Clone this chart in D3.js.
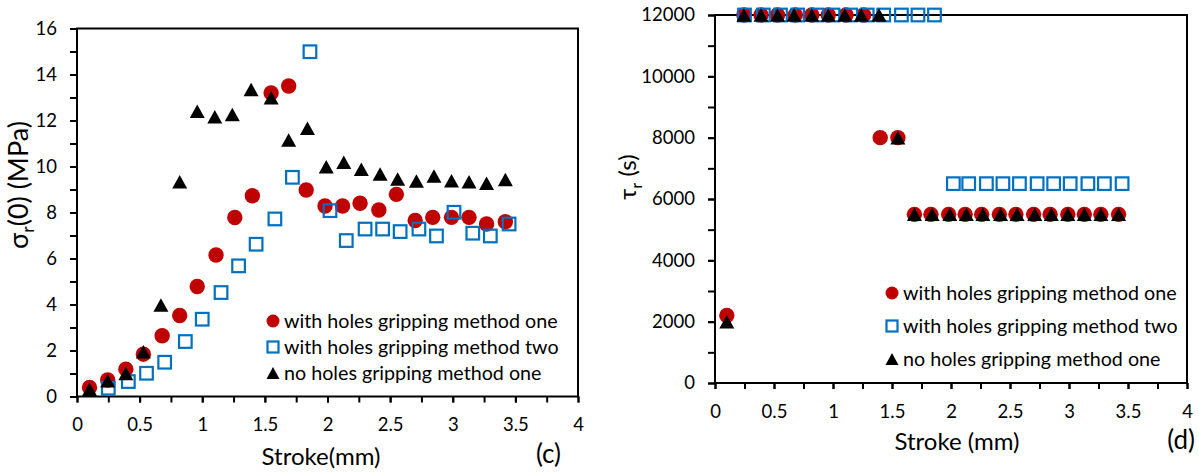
<!DOCTYPE html>
<html>
<head>
<meta charset="utf-8">
<script src="https://cdn.jsdelivr.net/npm/d3@7"></script>
<style>
body { margin: 0; background: #fff; }
svg text { font-family: Lato, "Open Sans", sans-serif; fill: #000; }
</style>
</head>
<body>
<div id="chart"></div>
<script>
// stroke (mm) of each specimen point
var strokeHolesOne = [0.10, 0.245, 0.39, 0.53, 0.68, 0.82, 0.96, 1.11, 1.26, 1.40, 1.55, 1.69,
    1.83, 1.98, 2.12, 2.26, 2.41, 2.55, 2.70, 2.84, 2.99, 3.13, 3.27, 3.42];
var strokeHolesTwo = [0.25, 0.41, 0.555, 0.70, 0.865, 1.00, 1.15, 1.29, 1.43, 1.58, 1.72, 1.86,
    2.02, 2.15, 2.30, 2.44, 2.58, 2.73, 2.87, 3.01, 3.16, 3.30, 3.45];
var strokeNoHoles = [0.10, 0.245, 0.39, 0.53, 0.67, 0.82, 0.96, 1.10, 1.24, 1.39, 1.55, 1.69,
    1.84, 1.99, 2.13, 2.27, 2.42, 2.56, 2.71, 2.85, 2.99, 3.13, 3.27, 3.42];

// (c) sigma_r(0) in MPa
var sigmaHolesOne = [0.39, 0.72, 1.19, 1.84, 2.64, 3.52, 4.78, 6.15, 7.78, 8.73, 13.2, 13.5,
    8.98, 8.28, 8.28, 8.40, 8.11, 8.79, 7.65, 7.79, 7.79, 7.79, 7.50, 7.60];
var sigmaHolesTwo = [0.36, 0.65, 1.01, 1.49, 2.39, 3.36, 4.52, 5.68, 6.62, 7.72, 9.53, 14.99,
    8.08, 6.78, 7.28, 7.28, 7.17, 7.28, 6.98, 8.01, 7.10, 6.98, 7.50];
var sigmaNoHoles = [0.32, 0.68, 1.00, 1.95, 3.98, 9.34, 12.4, 12.16, 12.26, 13.35, 12.99, 11.15,
    11.66, 9.99, 10.18, 9.88, 9.67, 9.46, 9.37, 9.59, 9.38, 9.34, 9.27, 9.44];

// (d) tau_r in s
var tauHolesOne = [2200, 12000, 12000, 12000, 12000, 12000, 12000, 12000, 12000, 8000, 8000, 5500,
    5500, 5500, 5500, 5500, 5500, 5500, 5500, 5500, 5500, 5500, 5500, 5500];
var tauHolesTwo = [12000, 12000, 12000, 12000, 12000, 12000, 12000, 12000, 12000, 12000, 12000, 12000,
    6500, 6500, 6500, 6500, 6500, 6500, 6500, 6500, 6500, 6500, 6500];
var tauNoHoles = [2000, 12000, 12000, 12000, 12000, 12000, 12000, 12000, 12000, 12000, 8000, 5500,
    5500, 5500, 5500, 5500, 5500, 5500, 5500, 5500, 5500, 5500, 5500, 5500];

var seriesNames = ["with holes gripping method one", "with holes gripping method two", "no holes gripping method one"];
var xTickLabels = [0, 0.5, 1, 1.5, 2, 2.5, 3, 3.5, 4];
var yTickLabelsC = [0, 2, 4, 6, 8, 10, 12, 14, 16];
var yTickLabelsD = [0, 2000, 4000, 6000, 8000, 10000, 12000];

var red = "#C00000", blue = "#0070C0";

var svg = d3.select("#chart").append("svg")
    .attr("width", 1199)
    .attr("height", 476);

function zip(xs, ys) {
    return xs.map(function(d, i) { return {x: d, y: ys[i]}; });
}

function triangle(w, h) {
    var p = d3.path();
    p.moveTo(0, -h / 2);
    p.lineTo(w / 2, h / 2);
    p.lineTo(-w / 2, h / 2);
    p.closePath();
    return p.toString();
}

function drawMarkers(g, kind, data, x, y) {
    if (kind == 0) {
        g.selectAll("circle.m").data(data).enter().append("circle")
            .attr("class", "m")
            .attr("cx", function(d) { return x(d.x); })
            .attr("cy", function(d) { return y(d.y); })
            .attr("r", 7.7)
            .style("fill", red);
    } else if (kind == 1) {
        g.selectAll("rect.m").data(data).enter().append("rect")
            .attr("class", "m")
            .attr("x", function(d) { return x(d.x) - 6.3; })
            .attr("y", function(d) { return y(d.y) - 6.3; })
            .attr("width", 12.6)
            .attr("height", 12.6)
            .style("fill", "none")
            .style("stroke", blue)
            .style("stroke-width", 2.2);
    } else {
        g.selectAll("path.m").data(data).enter().append("path")
            .attr("class", "m")
            .attr("transform", function(d) { return "translate(" + x(d.x) + "," + y(d.y) + ")"; })
            .attr("d", triangle(15, 13.5))
            .style("fill", "#000");
    }
}

function panel(o) {
    var x = d3.scaleLinear().domain([0, 4]).range([o.left, o.right]);
    var y = d3.scaleLinear().domain([0, o.ymax]).range([o.bottom, o.top]);
    var g = svg.append("g");

    // minor ticks
    g.append("g").attr("transform", "translate(" + o.left + ",0)")
        .call(d3.axisLeft(y).tickValues(d3.range(0, o.ymax + 1, o.yminor)).tickSize(7).tickFormat(""));
    g.append("g").attr("transform", "translate(0," + o.bottom + ")")
        .call(d3.axisBottom(x).tickValues(d3.range(0, 4.01, 0.25)).tickSize(6).tickFormat(""));

    // labelled ticks
    g.append("g").attr("class", "lab").attr("transform", "translate(" + o.left + ",0)")
        .call(d3.axisLeft(y).tickValues(o.yticks).tickSize(7).tickPadding(13)
            .tickFormat(function(d) { return String(d); }));
    g.append("g").attr("class", "lab").attr("transform", "translate(0," + o.bottom + ")")
        .call(d3.axisBottom(x).tickValues(xTickLabels).tickSize(6).tickPadding(15.5)
            .tickFormat(function(d) { return String(d); }));

    g.selectAll(".domain").remove();
    g.selectAll(".tick line").style("stroke", "#000").style("stroke-width", 2);
    g.selectAll(".lab text").style("font-size", "18.5px").style("font-family", "Lato, sans-serif");

    g.append("rect")
        .attr("x", o.left).attr("y", o.top)
        .attr("width", o.right - o.left).attr("height", o.bottom - o.top)
        .style("fill", "none").style("stroke", "#000").style("stroke-width", 2);

    drawMarkers(g.append("g"), 0, zip(strokeHolesOne, o.s1), x, y);
    drawMarkers(g.append("g"), 1, zip(strokeHolesTwo, o.s2), x, y);
    drawMarkers(g.append("g"), 2, zip(strokeNoHoles, o.s3), x, y);

    // legend
    var leg = g.append("g");
    seriesNames.forEach(function(name, i) {
        var cy = o.legY + i * o.legStep;
        var m = leg.append("g").attr("transform", "translate(" + o.legX + "," + cy + ")");
        if (i == 0) m.append("circle").attr("r", 6.5).style("fill", red);
        if (i == 1) m.append("rect").attr("x", -5.5).attr("y", -5.5).attr("width", 11).attr("height", 11)
            .style("fill", "none").style("stroke", blue).style("stroke-width", 2.2);
        if (i == 2) m.append("path").attr("d", triangle(13, 12)).style("fill", "#000");
        leg.append("text")
            .attr("x", o.legX + 11).attr("y", cy + 7)
            .style("font-size", "19.7px")
            .text(name);
    });

    g.append("text")
        .attr("x", o.xTitleX).attr("y", o.xTitleY)
        .attr("text-anchor", "middle")
        .style("font-size", "24px")
        .text(o.xTitle);

    g.append("text")
        .attr("x", o.tagX).attr("y", o.tagY)
        .attr("text-anchor", "end")
        .style("font-size", "26px")
        .text(o.tag);

    var yt = g.append("text")
        .attr("transform", "translate(" + o.yTitleX + "," + o.yTitleY + ") rotate(-90)")
        .attr("text-anchor", "middle")
        .style("font-size", o.yTitleSize + "px");
    yt.append("tspan").text(o.yTitle[0]);
    yt.append("tspan").attr("dy", 6).style("font-size", (o.yTitleSize * 0.65) + "px").text("r");
    yt.append("tspan").attr("dy", -6).text(o.yTitle[1]);
}

panel({
    left: 77, right: 578, top: 28.5, bottom: 396.5,
    ymax: 16, yminor: 1, yticks: yTickLabelsC,
    s1: sigmaHolesOne, s2: sigmaHolesTwo, s3: sigmaNoHoles,
    legX: 273, legY: 321, legStep: 26,
    xTitle: "Stroke(mm)", xTitleX: 321, xTitleY: 465,
    tag: "(c)", tagX: 561, tagY: 463,
    yTitle: ["σ", "(0) (MPa)"], yTitleSize: 27, yTitleX: 28, yTitleY: 185
});

panel({
    left: 715, right: 1187, top: 15, bottom: 383,
    ymax: 12000, yminor: 1000, yticks: yTickLabelsD,
    s1: tauHolesOne, s2: tauHolesTwo, s3: tauNoHoles,
    legX: 892, legY: 293, legStep: 33,
    xTitle: "Stroke (mm)", xTitleX: 957, xTitleY: 450,
    tag: "(d)", tagX: 1195, tagY: 449,
    yTitle: ["τ", " (s)"], yTitleSize: 24, yTitleX: 636, yTitleY: 177
});
</script>
</body>
</html>
